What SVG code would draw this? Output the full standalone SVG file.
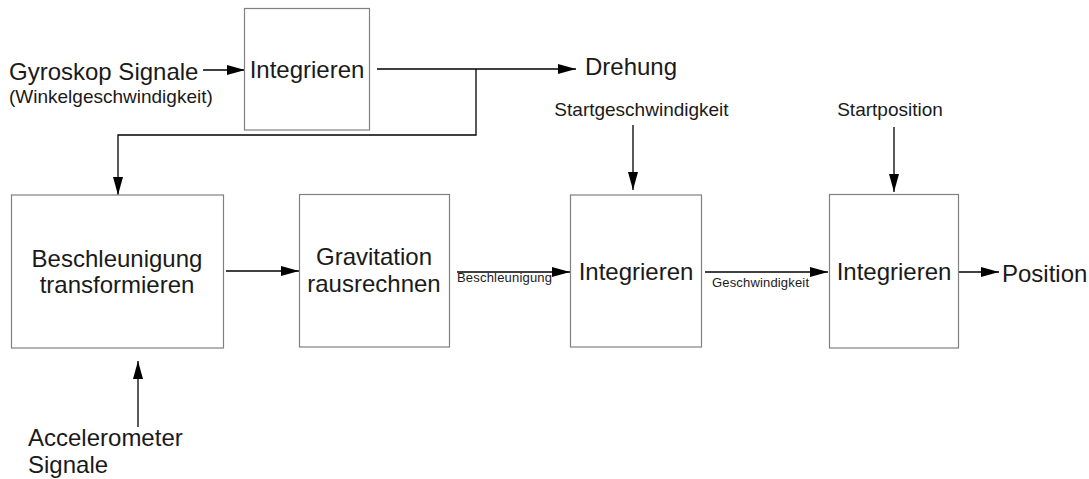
<svg xmlns="http://www.w3.org/2000/svg" width="1089" height="479" viewBox="0 0 1089 479">
<style>
.box{fill:#fff;stroke:#808080;stroke-width:1.2}
.c{fill:none;stroke:#000;stroke-width:1.3;marker-end:url(#ah)}
text{font-family:"Liberation Sans",Arial,sans-serif;fill:#1a1a1a}
.big{font-size:24px}
.mid{font-size:19px}
.sm{font-size:13px}
.mc{text-anchor:middle}
</style>
<defs>
<marker id="ah" viewBox="0 0 18 10" refX="18" refY="5" markerWidth="18" markerHeight="10" markerUnits="userSpaceOnUse" orient="auto">
<path d="M0,0 L18,5 L0,10 z" fill="#000"/>
</marker>
</defs>
<rect width="1089" height="479" fill="#fff"/>
<g id="connectors">
<line class="c" x1="203" y1="70" x2="245" y2="70"/>
<line class="c" x1="377" y1="69" x2="576" y2="69"/>
<polyline class="c" points="476,69 476,135 118,135 118,195"/>
<line class="c" x1="226" y1="271" x2="299" y2="271"/>
<line class="c" x1="457" y1="272" x2="570" y2="272"/>
<line class="c" x1="705" y1="272" x2="828" y2="272"/>
<line class="c" x1="959" y1="272" x2="999" y2="272"/>
<line class="c" x1="633" y1="125" x2="633" y2="190"/>
<line class="c" x1="894" y1="127" x2="894" y2="192"/>
<line class="c" x1="138" y1="427" x2="138" y2="361"/>
</g>
<g id="gyro-input">
<text class="big" x="9" y="80">Gyroskop Signale</text>
<text class="mid" x="9" y="103">(Winkelgeschwindigkeit)</text>
</g>
<g id="integrieren-top">
<rect class="box" x="244.5" y="8.5" width="125" height="121.5"/>
<text class="big mc" x="307" y="78">Integrieren</text>
</g>
<g id="drehung"><text class="big" x="585" y="75">Drehung</text></g>
<g id="startgeschwindigkeit"><text class="mid mc" x="641.5" y="116">Startgeschwindigkeit</text></g>
<g id="startposition"><text class="mid mc" x="890" y="116">Startposition</text></g>
<g id="beschleunigung-transformieren">
<rect class="box" x="11.5" y="195" width="212" height="153"/>
<text class="big mc" x="117" y="267">Beschleunigung</text>
<text class="big mc" x="117" y="293">transformieren</text>
</g>
<g id="gravitation">
<rect class="box" x="299.5" y="194.5" width="150" height="152.5"/>
<text class="big mc" x="374" y="265">Gravitation</text>
<text class="big mc" x="374" y="292">rausrechnen</text>
</g>
<g id="label-beschleunigung"><text class="sm" x="457" y="282" textLength="95">Beschleunigung</text></g>
<g id="integrieren-mid">
<rect class="box" x="570.5" y="195" width="131" height="152"/>
<text class="big mc" x="636" y="280">Integrieren</text>
</g>
<g id="label-geschwindigkeit"><text class="sm" x="712" y="287" textLength="97">Geschwindigkeit</text></g>
<g id="integrieren-right">
<rect class="box" x="829.5" y="194.5" width="129" height="153.5"/>
<text class="big mc" x="894" y="280">Integrieren</text>
</g>
<g id="position"><text class="big" x="1002" y="282">Position</text></g>
<g id="accelerometer">
<text class="big" x="28" y="446">Accelerometer</text>
<text class="big" x="28" y="473">Signale</text>
</g>
</svg>
